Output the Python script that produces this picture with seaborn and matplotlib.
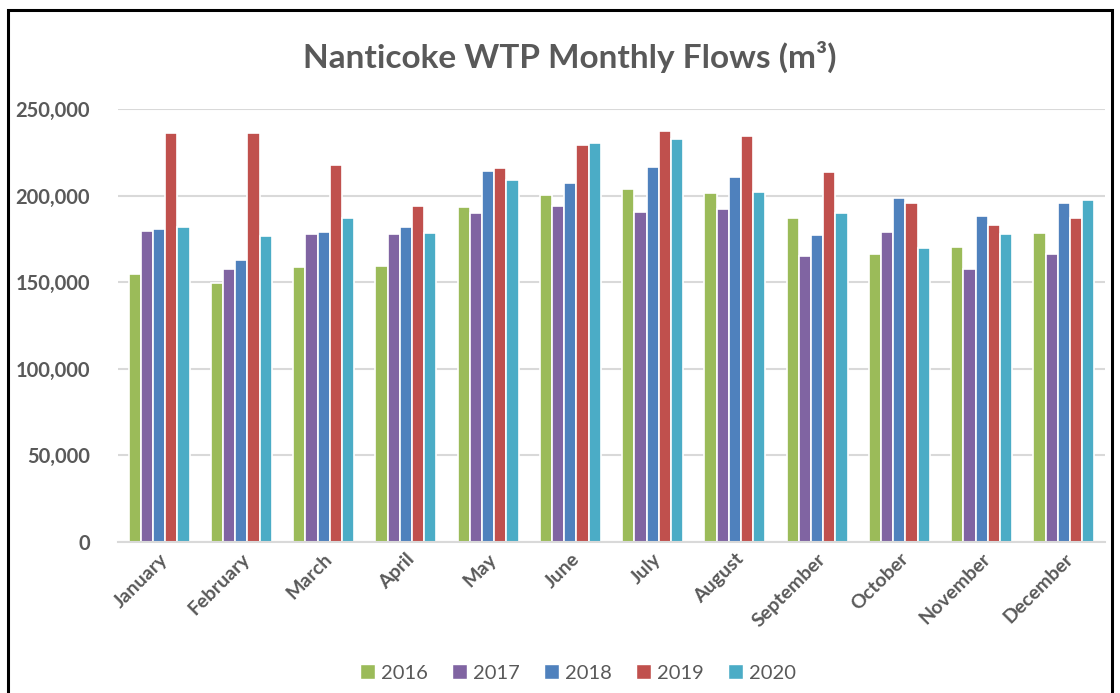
import pandas as pd
import numpy as np
import matplotlib.pyplot as plt
import seaborn as sns
from matplotlib.patches import Rectangle, Patch
from matplotlib.ticker import FuncFormatter

months = ['January', 'February', 'March', 'April', 'May', 'June', 'July',
          'August', 'September', 'October', 'November', 'December']
years = ['2016', '2017', '2018', '2019', '2020']

flows_2016 = [155000, 149800, 158500, 159200, 193200, 200100, 203800, 201400, 186800, 166000, 170400, 178500]
flows_2017 = [179300, 157900, 177700, 177700, 189700, 194100, 190300, 192000, 165400, 178700, 157900, 166000]
flows_2018 = [180800, 163100, 178700, 181600, 214200, 207400, 216300, 210500, 177000, 198600, 188200, 195500]
flows_2019 = [236300, 236300, 217800, 194100, 215700, 229000, 237100, 234200, 213400, 195700, 183000, 186800]
flows_2020 = [181600, 176400, 186800, 178500, 209000, 230300, 232500, 202200, 189700, 169700, 177700, 197200]

colores = ['#9BBB59', '#8064A2', '#4F81BD', '#C0504D', '#4BACC6']
gris = '#595959'


def arma_df():
    filas = []
    series = [flows_2016, flows_2017, flows_2018, flows_2019, flows_2020]
    for anio, vals in zip(years, series):
        for mes, v in zip(months, vals):
            filas.append({'month': mes, 'year': anio, 'flow': v})
    return pd.DataFrame(filas)


def genera_plot(df):
    fig = plt.figure(figsize=(11.2, 6.93), dpi=100)
    ax = fig.add_axes([118 / 1120, 1 - 542 / 693, (1105 - 118) / 1120, (542 - 109) / 693])

    sns.barplot(data=df, x='month', y='flow', hue='year', order=months, hue_order=years,
                palette=colores, width=0.74, edgecolor='white', linewidth=1.2,
                saturation=1, legend=False, ax=ax)

    ax.set_ylim(0, 250000)
    ax.set_yticks(np.arange(0, 250001, 50000))
    ax.yaxis.set_major_formatter(FuncFormatter(lambda v, p: f'{int(v):,}'))
    ax.grid(axis='y', color='#D9D9D9', linewidth=1.5)
    ax.set_axisbelow(True)
    for s in ['top', 'right', 'left']:
        ax.spines[s].set_visible(False)
    ax.spines['bottom'].set_color('#D9D9D9')
    ax.spines['bottom'].set_linewidth(1.5)
    ax.tick_params(length=0)
    ax.tick_params(axis='y', pad=20)
    ax.set_xlabel('')
    ax.set_ylabel('')

    for lbl in ax.get_yticklabels():
        lbl.set_fontsize(14.5)
        lbl.set_fontweight('bold')
        lbl.set_color(gris)
    ax.set_xticks(range(len(months)))
    ax.set_xticklabels(months, rotation=45, ha='right', rotation_mode='anchor',
                       fontsize=14, fontweight='bold', color=gris)
    ax.tick_params(axis='x', pad=6)

    fig.text(0.509, 1 - 57 / 693, 'Nanticoke WTP Monthly Flows (m³)', ha='center', va='center',
             fontsize=24, fontweight='bold', color=gris)

    handles = [Patch(facecolor=c, edgecolor='white') for c in colores]
    fig.legend(handles, years, loc='center', bbox_to_anchor=(0.516, 1 - 673 / 693),
               ncol=5, frameon=False, fontsize=14.5, handlelength=0.75, handleheight=0.75,
               handletextpad=0.3, columnspacing=1.2, labelcolor=gris)

    fig.patches.append(Rectangle((8 / 1120, -0.02), (1112 - 8) / 1120, 1 - 10 / 693 + 0.02,
                                 transform=fig.transFigure, fill=False,
                                 edgecolor='black', linewidth=2.2))

    fig.savefig('out.png', dpi=100)


if __name__ == '__main__':
    sns.set_style('white')
    plt.rcParams['font.family'] = ['Lato', 'DejaVu Sans']
    df = arma_df()
    genera_plot(df)
